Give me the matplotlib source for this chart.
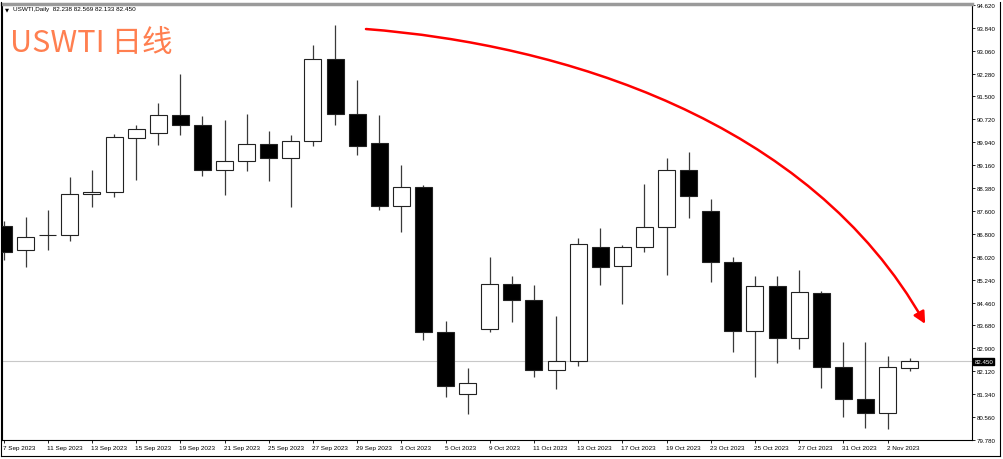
import matplotlib.pyplot as plt
from matplotlib.patches import FancyArrowPatch
from matplotlib.path import Path
from matplotlib.lines import Line2D
import matplotlib.transforms as mtransforms

# Дневные свечи USWTI.
dates = ['7 Sep 2023', '8 Sep 2023', '11 Sep 2023', '12 Sep 2023', '13 Sep 2023',
         '14 Sep 2023', '15 Sep 2023', '18 Sep 2023', '19 Sep 2023', '20 Sep 2023',
         '21 Sep 2023', '22 Sep 2023', '25 Sep 2023', '26 Sep 2023', '27 Sep 2023',
         '28 Sep 2023', '29 Sep 2023', '2 Oct 2023', '3 Oct 2023', '4 Oct 2023',
         '5 Oct 2023', '6 Oct 2023', '9 Oct 2023', '10 Oct 2023', '11 Oct 2023',
         '12 Oct 2023', '13 Oct 2023', '16 Oct 2023', '17 Oct 2023', '18 Oct 2023',
         '19 Oct 2023', '20 Oct 2023', '23 Oct 2023', '24 Oct 2023', '25 Oct 2023',
         '26 Oct 2023', '27 Oct 2023', '30 Oct 2023', '31 Oct 2023', '1 Nov 2023',
         '2 Nov 2023', '3 Nov 2023']
opens = [87.06, 86.24, 86.76, 86.77, 88.15, 88.25, 90.09, 90.25, 90.88, 90.51,
         89.00, 89.29, 89.89, 89.38, 89.97, 92.78, 90.90, 89.91, 87.76, 88.40,
         83.45, 81.32, 83.56, 85.09, 84.56, 82.17, 82.46, 86.37, 85.70, 86.37,
         87.05, 88.98, 87.60, 85.86, 83.48, 85.03, 83.25, 84.78, 82.27, 81.15,
         80.69, 82.238]
highs = [87.23, 87.37, 87.61, 88.73, 88.97, 90.21, 90.51, 91.27, 92.25, 90.83,
         90.71, 90.91, 90.33, 90.17, 93.24, 93.94, 92.07, 90.85, 89.17, 88.49,
         83.84, 82.23, 86.01, 85.37, 85.07, 83.99, 86.66, 87.02, 86.43, 88.50,
         89.40, 89.61, 87.98, 86.03, 85.37, 85.35, 85.56, 84.84, 83.12, 83.12,
         82.65, 82.569]
lows = [85.91, 85.66, 86.25, 86.56, 87.72, 88.05, 88.64, 89.83, 90.17, 88.78,
        88.14, 88.96, 88.61, 87.73, 89.80, 90.51, 89.49, 87.62, 86.88, 83.19,
        81.24, 80.64, 83.45, 83.79, 81.91, 81.49, 82.29, 85.07, 84.41, 86.20,
        85.39, 87.36, 85.16, 82.78, 81.92, 82.39, 82.87, 81.55, 80.55, 80.16,
        80.13, 82.133]
closes = [86.18, 86.69, 86.78, 88.16, 88.25, 90.12, 90.37, 90.88, 90.51, 89.00,
          89.30, 89.89, 89.38, 89.98, 92.78, 90.91, 89.81, 87.76, 88.40, 83.45,
          81.61, 81.70, 85.09, 84.55, 82.17, 82.46, 86.46, 85.68, 86.35, 87.04,
          88.98, 88.10, 85.86, 83.48, 85.03, 83.25, 84.81, 82.27, 81.15, 80.69,
          82.27, 82.450]

price_ticks = [94.62, 93.84, 93.06, 92.28, 91.50, 90.72, 89.94, 89.16, 88.38, 87.60,
               86.80, 86.02, 85.24, 84.46, 83.68, 82.90, 82.12, 81.34, 80.56, 79.78]
last_price = 82.45

W, H = 1004, 460
fig = plt.figure(figsize=(W / 100, H / 100), dpi=100)
fig.patch.set_facecolor('white')

# Область графика в пикселях: x 2..972, y 5..441
ax = fig.add_axes([2 / W, (H - 441) / H, 970 / W, 436 / H])
ax.set_facecolor('white')

idx = list(range(len(dates)))
body_w = 0.77

# Линия текущей цены
ax.axhline(last_price, color='#c8c8c8', lw=0.8, zorder=1)

# Тени
ax.vlines(idx, lows, highs, color='#3a3a3a', lw=0.9, zorder=2)

# Тела свечей
bottoms = [min(o, c) for o, c in zip(opens, closes)]
heights = [max(abs(c - o), 0.02) for o, c in zip(opens, closes)]
colors = ['white' if c >= o else 'black' for o, c in zip(opens, closes)]
ax.bar(idx, heights, bottom=bottoms, width=body_w, color=colors,
       edgecolor='#222222', linewidth=0.8, zorder=3)

ax.set_xlim(-0.068, 43.82)
ax.set_ylim(79.765, 94.655)

# Ось цен справа
ax.yaxis.tick_right()
ax.set_yticks(price_ticks)
ax.set_yticklabels(['%.3f' % v for v in price_ticks])
ax.tick_params(axis='y', direction='out', length=2.2, width=0.6, pad=1.2,
               labelsize=4.4, colors='black')

# Ось дат снизу: подпись каждой второй свечи
ax.set_xticks(idx[::2])
ax.set_xticklabels([d for d in dates[::2]], ha='left')
ax.tick_params(axis='x', direction='out', length=2.2, width=0.6, pad=1.5,
               labelsize=4.6, colors='black')
for lab in ax.get_xticklabels():
    lab.set_x(lab.get_position()[0])
offset = mtransforms.ScaledTranslation(-1 / 100, 0, fig.dpi_scale_trans)
for lab in ax.get_xticklabels():
    lab.set_transform(lab.get_transform() + offset)
for lab in ax.get_xticklabels() + ax.get_yticklabels():
    lab.set_fontfamily('Liberation Sans')

for side in ['left', 'bottom', 'right']:
    ax.spines[side].set_color('black')
    ax.spines[side].set_linewidth(0.8)
ax.spines['top'].set_color('#9a9a9a')
ax.spines['top'].set_linewidth(2.5)

# Метка последней цены
trans = mtransforms.blended_transform_factory(ax.transAxes, ax.transData)
ax.text(1.0025, last_price, '%.3f' % last_price, transform=trans, fontsize=4.4,
        color='white', va='center', ha='left', family='Liberation Sans',
        bbox=dict(facecolor='black', edgecolor='black', pad=0.8))

# Красная стрелка тренда
verts = [(16.40, 93.80), (25.18, 93.29), (36.49, 90.73), (41.70, 83.73)]
codes = [Path.MOVETO, Path.CURVE4, Path.CURVE4, Path.CURVE4]
arrow = FancyArrowPatch(path=Path(verts, codes),
                        arrowstyle='-|>,head_length=0.7,head_width=0.35',
                        mutation_scale=10, color='#ff0000', lw=1.8, zorder=5)
ax.add_patch(arrow)

# Заголовок окна
fig.text(5 / W, 1 - 10 / H, '\u25bc', fontsize=3.8, va='center', ha='left',
         color='black', family='DejaVu Sans')
fig.text(13 / W, 1 - 10 / H, 'USWTI,Daily  82.238 82.569 82.133 82.450',
         fontsize=4.6, va='center', ha='left', color='black', family='Liberation Sans')

fig.text(10 / W, 1 - 52 / H, 'USWTI 日线', fontsize=22, color='#ff7f50',
         va='baseline', ha='left', family=['Noto Sans CJK SC', 'DejaVu Sans'])

# Внешняя рамка окна
fig.add_artist(Line2D([1 / W, 1000 / W], [1 - 457 / H, 1 - 457 / H],
                      transform=fig.transFigure, color='black', lw=0.8))
fig.add_artist(Line2D([1000 / W, 1000 / W], [1 - 457 / H, 1 - 3 / H],
                      transform=fig.transFigure, color='black', lw=0.8))
fig.add_artist(Line2D([1.5 / W, 1.5 / W], [1 - 457 / H, 1 - 3 / H],
                      transform=fig.transFigure, color='black', lw=0.8))

fig.savefig('out.png', dpi=100)
